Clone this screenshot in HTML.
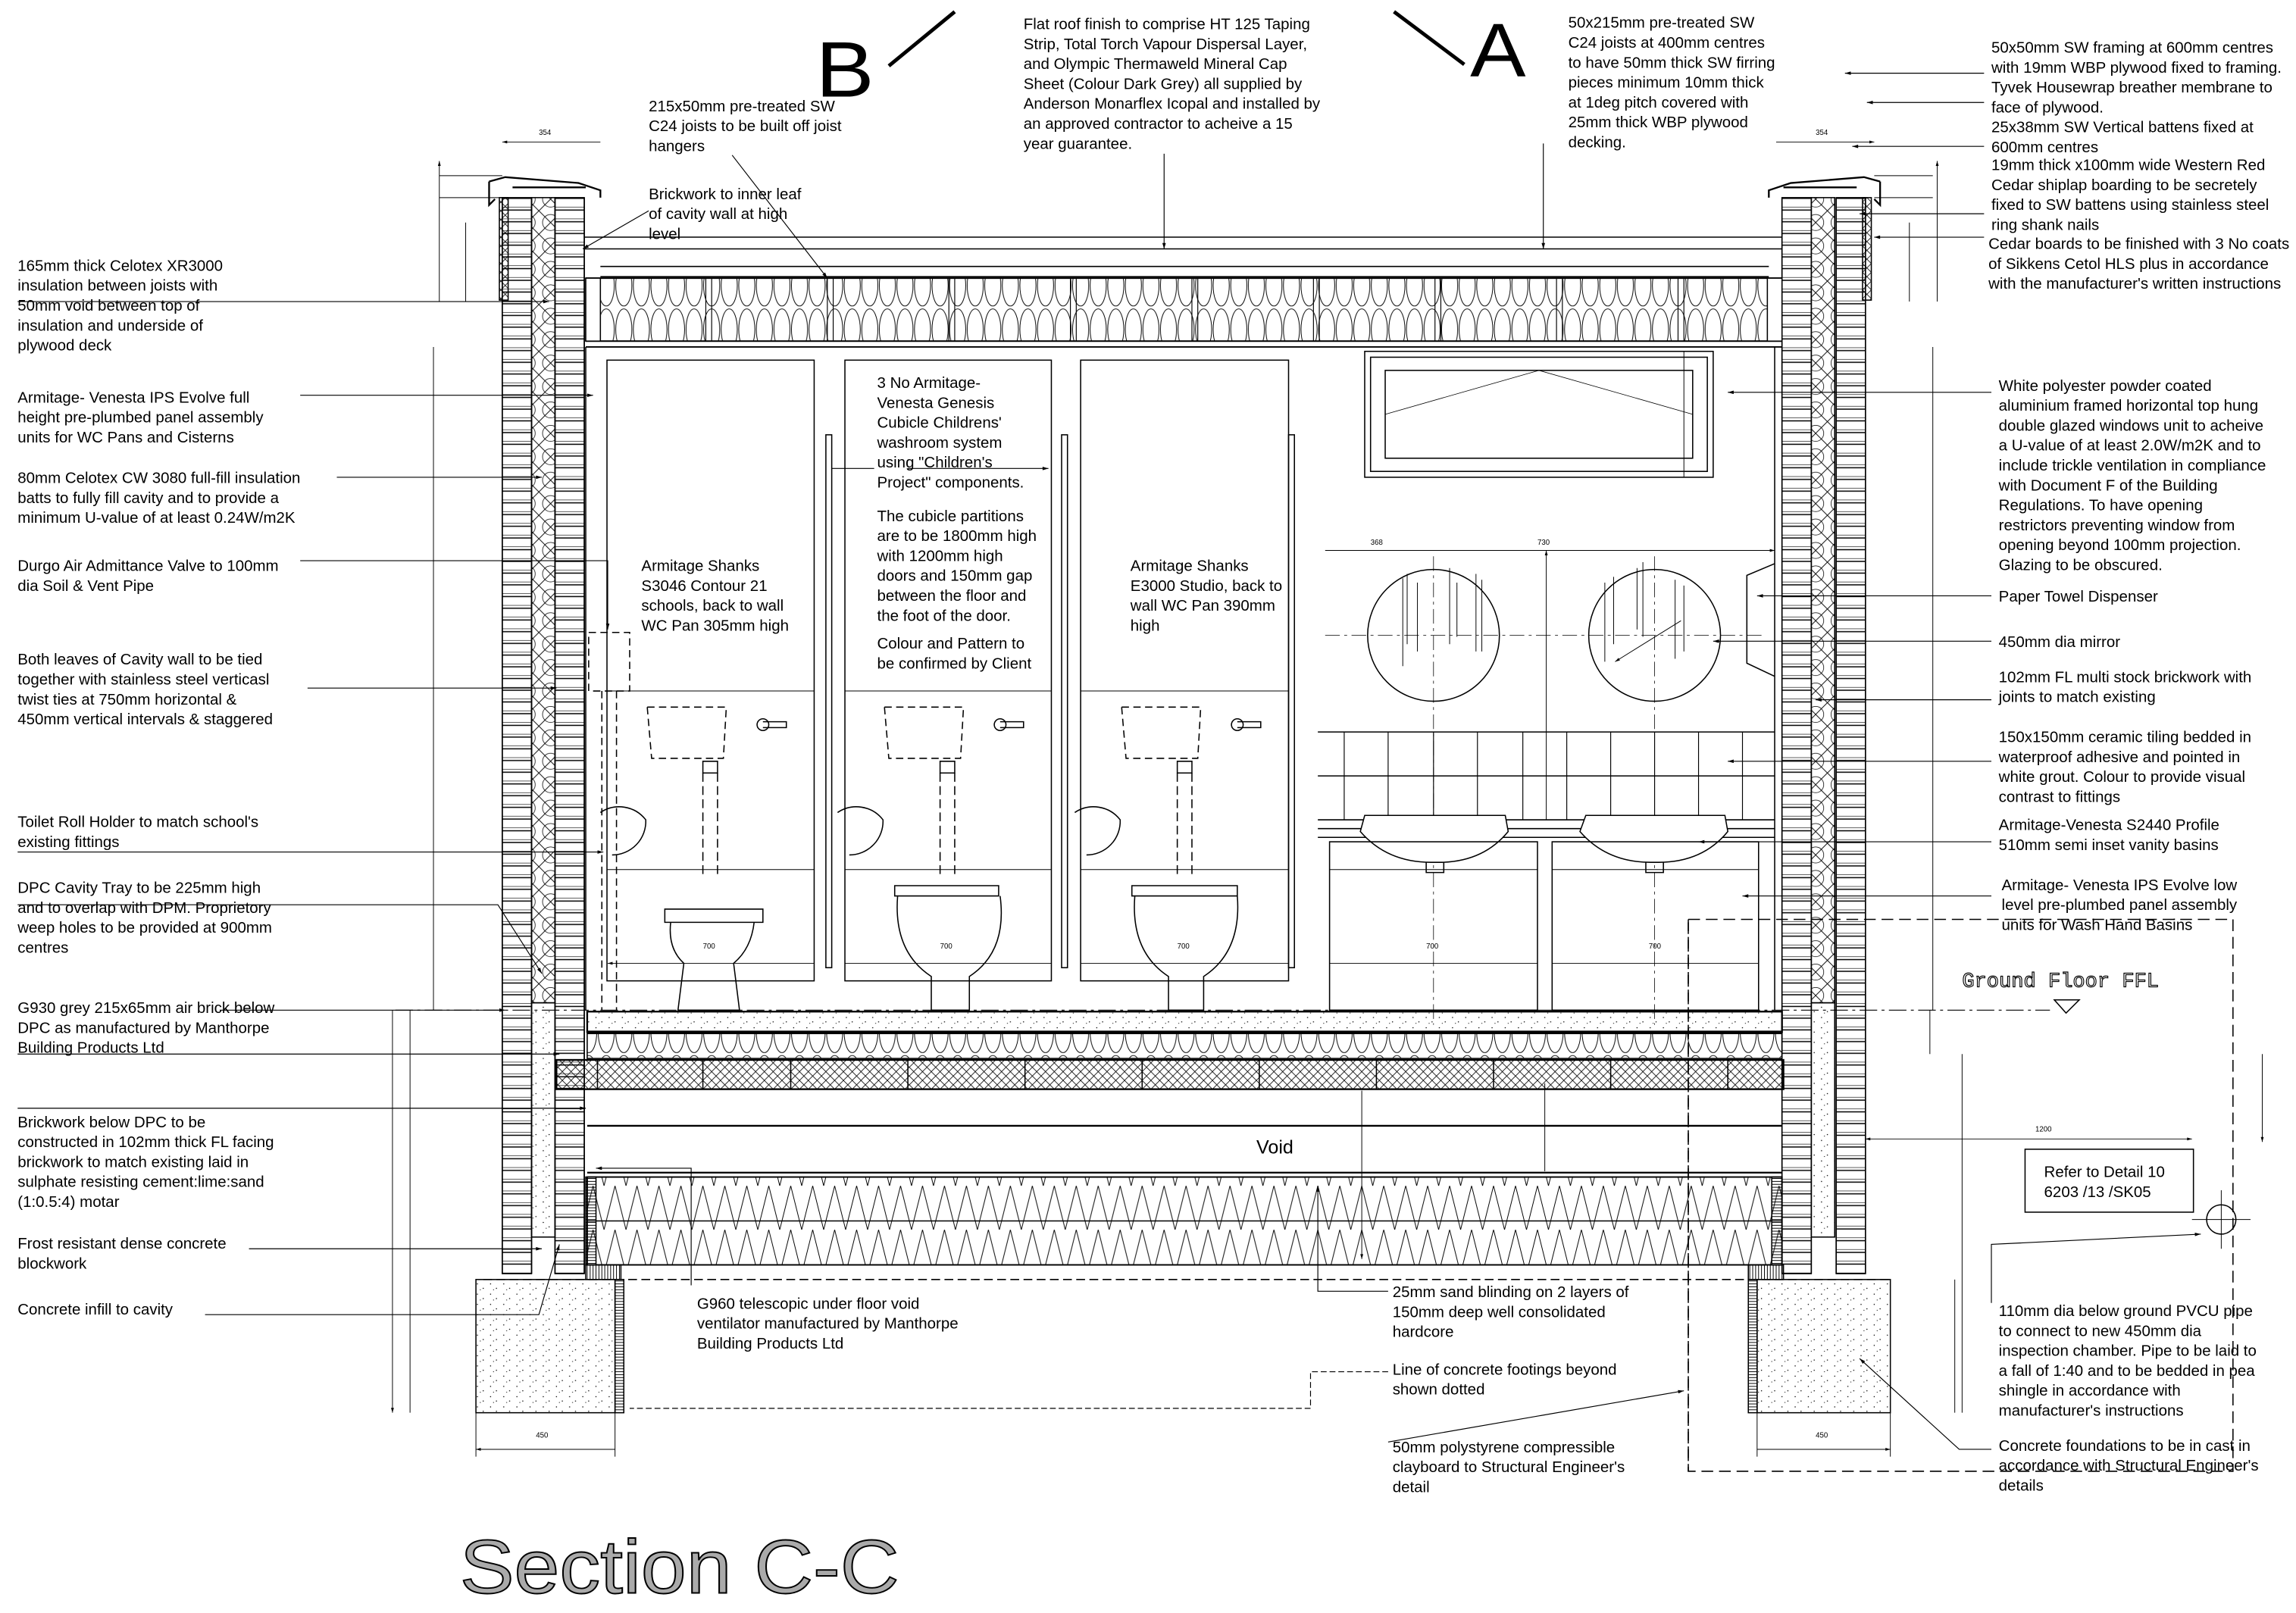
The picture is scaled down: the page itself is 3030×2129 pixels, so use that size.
<!DOCTYPE html>
<html><head><meta charset="utf-8"><style>
html,body{margin:0;padding:0;background:#fff}
svg{display:block}
text{font-family:"Liberation Sans",Arial,sans-serif;fill:#000}
.t{font-size:10.6px}
.d{font-size:5px}
</style></head><body>
<svg width="3030" height="2129" viewBox="0 0 1568 1101.8" xmlns="http://www.w3.org/2000/svg">
<defs>
<pattern id="xh" width="16" height="16" patternUnits="userSpaceOnUse"><path d="M0 0L16 16M16 0L0 16" stroke="#000" stroke-width="0.5"/><circle cx="8" cy="8" r="5.5" fill="none" stroke="#000" stroke-width="0.4"/></pattern>
<pattern id="loop" width="12" height="30" patternUnits="userSpaceOnUse"><ellipse cx="6" cy="15" rx="5.5" ry="14" fill="none" stroke="#000" stroke-width="0.5"/></pattern>
<pattern id="hatch" width="6" height="6" patternUnits="userSpaceOnUse"><path d="M0 0L6 6M6 0L0 6" stroke="#000" stroke-width="0.4"/></pattern>
<pattern id="dots" width="9" height="7" patternUnits="userSpaceOnUse"><circle cx="2" cy="2" r="0.4"/><circle cx="6" cy="5" r="0.4"/><circle cx="4" cy="6" r="0.3"/></pattern>
<pattern id="brick" width="20" height="8" patternUnits="userSpaceOnUse"><path d="M0 7.5H20" stroke="#000" stroke-width="0.8"/><path d="M0 5.5H20" stroke="#000" stroke-width="0.3"/></pattern>
<pattern id="vl" width="2" height="4" patternUnits="userSpaceOnUse"><path d="M1 0V4" stroke="#000" stroke-width="0.5"/></pattern>
<pattern id="hl" width="4" height="2" patternUnits="userSpaceOnUse"><path d="M0 1H4" stroke="#000" stroke-width="0.5"/></pattern>
<pattern id="zig" width="30" height="30" patternUnits="userSpaceOnUse"><path d="M0 0L7.5 30L15 0L22.5 30L30 0" fill="none" stroke="#000" stroke-width="0.5"/></pattern>
<marker id="ar" viewBox="0 0 10 6" refX="10" refY="3" markerWidth="7" markerHeight="4" orient="auto-start-reverse"><path d="M0 0L10 3L0 6z"/></marker>
</defs>
<g stroke="#000" fill="none" stroke-width="0.8">
<!-- Section marks -->
<path d="M607 45L652 8M952 8L1000 44" stroke-width="2.5"/>
<!-- LEFT WALL -->
<rect x="343" y="135" width="20" height="735" fill="url(#brick)"/>
<rect x="363" y="135" width="16" height="550" fill="url(#xh)"/>
<rect x="379" y="135" width="20" height="735" fill="url(#brick)"/>
<rect x="363" y="685" width="16" height="160" fill="url(#dots)"/>
<path d="M343 135V870M363 135V870M379 135V870M399 135V870"/>
<rect x="341" y="135" width="6" height="70" fill="url(#hatch)"/>
<!-- left coping -->
<path d="M334 124L345 121L395 125L410 130V135M334 124V140L338 136M350 128H400" stroke-width="1.2"/>
<!-- RIGHT WALL -->
<rect x="1217" y="135" width="20" height="735" fill="url(#brick)"/>
<rect x="1237" y="135" width="16" height="550" fill="url(#xh)"/>
<rect x="1254" y="135" width="20" height="735" fill="url(#brick)"/>
<rect x="1237" y="685" width="16" height="160" fill="url(#dots)"/>
<path d="M1217 135V870M1237 135V870M1254 135V870M1274 135V870"/>
<rect x="1272" y="135" width="6" height="70" fill="url(#hatch)"/>
<path d="M1284 124L1273 121L1223 125L1208 130V135M1284 124V140L1280 136M1268 128H1218" stroke-width="1.2"/>
<!-- ROOF -->
<path d="M399 162H1217M399 170H1217M410 182H1208M410 189H1208" />
<rect x="400" y="190" width="817" height="43" fill="url(#loop)"/>
<path d="M400 190H1217M400 233H1217M400 237H1217" stroke-width="1"/>
<path d="M482 190V233M486 190V233M565 190V233M569 190V233M648 190V233M652 190V233M731 190V233M735 190V233M814 190V233M818 190V233M897 190V233M901 190V233M980 190V233M984 190V233M1063 190V233M1067 190V233M1146 190V233M1150 190V233" stroke-width="0.6"/>
<rect x="400" y="190" width="10" height="43" fill="#fff"/><rect x="1207" y="190" width="10" height="43" fill="#fff"/>
<!-- CUBICLES -->
<rect x="414.5" y="246" width="141.5" height="424"/>
<rect x="577" y="246" width="141" height="424"/>
<rect x="738" y="246" width="142" height="424"/>
<path d="M414.5 472H556M414.5 594H556M577 472H718M577 594H718M738 472H880M738 594H880" stroke-width="0.5"/>
<rect x="564" y="297" width="4" height="364"/><rect x="725" y="297" width="4" height="364"/><rect x="880" y="297" width="4" height="364"/>
<path d="M400 237V690M1212 237V690"/>
<!-- toilets -->
<g id="wc">
<path d="M442 483L445 518H473M442 483H496L494 518H470" stroke-dasharray="5 3"/>
<path d="M480 520H490V528H480z"/>
<path d="M480 528V600M490 528V600" stroke-dasharray="6 3"/>
<circle cx="521" cy="495" r="4"/><path d="M521 493H537V497H521"/>
<path d="M410 555A23 23 0 0 1 441 560A23 23 0 0 1 418 584"/>
</g>
<use href="#wc" x="162"/>
<use href="#wc" x="324"/>
<!-- pans -->
<path d="M454 621H521V630H454zM458 630Q456 648 467 658L463 690H505L501 658Q513 648 515 630"/>
<path d="M611 605H682V612H611zM613 612Q610 650 636 667V690H662V667Q688 650 683 612"/>
<path d="M773 605H845V612H773zM775 612Q772 650 798 667V690H822V667Q848 650 845 612"/>
<!-- soil pipe -->
<path d="M402 432H430V472H402zM411 472V690M421 472V690" stroke-dasharray="5 3"/>
<!-- WINDOW -->
<rect x="932" y="240" width="238" height="86"/>
<rect x="936" y="244" width="230" height="78"/>
<rect x="946" y="253" width="210" height="60"/>
<path d="M946 283L1051 253L1156 283" stroke-width="0.4"/>
<!-- mirrors -->
<circle cx="979" cy="434" r="45"/><circle cx="1130" cy="434" r="45"/>
<path d="M905 434H1205M979 380V700M1130 380V700" stroke-width="0.4" stroke-dasharray="10 3 2 3"/>
<path d="M958 395V455M961 392V440M968 398V445M990 388V440M995 398V435M1008 392V445M1012 396V445M1096 398V452M1102 394V440M1118 388V430M1122 384V435M1144 396V450M1150 400V445" stroke-width="0.5"/>
<path d="M1148 424L1103 452" marker-end="url(#ar)" stroke-width="0.5"/>
<!-- paper towel -->
<path d="M1212 385L1193 393V453L1212 462"/>
<!-- tiles -->
<path d="M900 500H1212M900 530H1212M900 560H1212M900 566H1212M900 572H1212"/>
<path d="M918 500V560M948 500V560M979 500V560M1009 500V560M1040 500V560M1070 500V560M1100 500V560M1130 500V560M1160 500V560M1190 500V560" stroke-width="0.6"/>
<!-- basins -->
<path d="M932 557H1028L1030 568Q1012 590 980 589Q948 590 929 568z" fill="#fff"/>
<path d="M1083 557H1178L1180 568Q1162 590 1130 589Q1098 590 1079 568z" fill="#fff"/>
<path d="M974 589V596H986V589M1124 589V596H1136V589"/>
<rect x="908" y="575" width="142" height="115"/><rect x="1060" y="575" width="141" height="115"/>
<path d="M908 594H1050M1060 594H1201" stroke-width="0.5"/>
<!-- FLOOR -->
<rect x="401" y="691" width="816" height="14" fill="url(#dots)" stroke-width="1.2"/>
<path d="M401 705H1217" stroke-width="2"/>
<rect x="401" y="706" width="816" height="17" fill="url(#loop)"/>
<rect x="380" y="724" width="838" height="20" fill="url(#hatch)" stroke-width="1.2"/>
<path d="M408 724V744M480 724V744M540 724V744M620 724V744M700 724V744M780 724V744M860 724V744M940 724V744M1020 724V744M1100 724V744M1180 724V744"/>
<path d="M401 769H1217M401 801H1217" stroke-width="1.2"/>
<rect x="401" y="804" width="816" height="60" fill="url(#zig)" stroke-width="1"/>
<path d="M401 834H1217"/>
<rect x="400" y="804" width="7" height="60" fill="url(#hl)"/><rect x="1210" y="804" width="7" height="60" fill="url(#hl)"/>
<!-- footings -->
<rect x="325" y="874" width="95" height="91" fill="url(#dots)"/>
<rect x="1200" y="874" width="91" height="91" fill="url(#dots)"/>
<rect x="400" y="864" width="24" height="10" fill="url(#vl)"/><rect x="1194" y="864" width="24" height="10" fill="url(#vl)"/>
<rect x="420" y="874" width="6" height="91" fill="url(#hl)"/><rect x="1194" y="874" width="6" height="91" fill="url(#hl)"/>
<path d="M330 874H1290" stroke-dasharray="6 3"/>
<path d="M1153 628H1525V1005H1153z" stroke-dasharray="8 4"/>
<path d="M1153 628V1005" stroke-dasharray="8 4"/>
<!-- FFL -->
<path d="M270 690H1400" stroke-dasharray="12 3 2 3" stroke-width="0.6"/>
<path d="M1403 683H1420L1411 692z"/>
<!-- refer box -->
<rect x="1383" y="785" width="115" height="43"/>
<circle cx="1517" cy="833" r="10"/><path d="M1517 827V839M1511 833H1523M1497 833H1537M1517 813V853" stroke-width="0.5"/>
<path d="M1274 778H1497" marker-start="url(#ar)" marker-end="url(#ar)" stroke-width="0.5"/>
<!-- DIMENSIONS -->
<g stroke-width="0.5">
<path d="M343 97H410M1213 97H1280" marker-start="url(#ar)" marker-end="url(#ar)"/>
<path d="M300 120H343M300 135H343M1280 120H1320M1280 135H1320"/>
<path d="M300 110V135M300 135V206M318 152V206M280 690V965M296 237V690M268 690V720M268 720V965" marker-start="url(#ar)" marker-end="url(#ar)"/>
<path d="M1323 110V135M1323 135V206M1304 152V206M1320 237V690M1318 690V720M1340 720V965M1335 874V965M1545 720V780" marker-start="url(#ar)" marker-end="url(#ar)"/>
<path d="M415 658H556M577 658H718M738 658H880M908 658H1050M1060 658H1201M905 376H1212" marker-start="url(#ar)" marker-end="url(#ar)"/>
<path d="M1056 376V560M1150 240V326M1055 740V800M930 745V860" marker-start="url(#ar)" marker-end="url(#ar)"/>
<path d="M325 990H420M1200 990H1291" marker-start="url(#ar)" marker-end="url(#ar)"/>
<path d="M325 965V995M420 965V995M1200 965V995M1291 965V995"/>
<text class="d" x="368" y="92" stroke="none" style="font-size:5px">354</text>
<text class="d" x="1240" y="92" stroke="none" style="font-size:5px">354</text>
<text class="d" x="366" y="982" stroke="none" style="font-size:5px">450</text>
<text class="d" x="1240" y="982" stroke="none" style="font-size:5px">450</text>
<text class="d" x="1390" y="773" stroke="none" style="font-size:5px">1200</text>
<text class="d" x="480" y="648" stroke="none" style="font-size:5px">700</text>
<text class="d" x="642" y="648" stroke="none" style="font-size:5px">700</text>
<text class="d" x="804" y="648" stroke="none" style="font-size:5px">700</text>
<text class="d" x="974" y="648" stroke="none" style="font-size:5px">700</text>
<text class="d" x="1126" y="648" stroke="none" style="font-size:5px">700</text>
<text class="d" x="936" y="372" stroke="none" style="font-size:5px">368</text>
<text class="d" x="1050" y="372" stroke="none" style="font-size:5px">730</text>
</g>
<!-- LEADERS -->
<g stroke-width="0.6">
<path d="M12 206H375" marker-end="url(#ar)"/>
<path d="M205 270H405" marker-end="url(#ar)"/>
<path d="M230 326H370" marker-end="url(#ar)"/>
<path d="M205 383H415V430" marker-end="url(#ar)"/>
<path d="M210 470H380" marker-end="url(#ar)"/>
<path d="M12 582H412" marker-end="url(#ar)"/>
<path d="M12 618H340L370 665" marker-end="url(#ar)"/>
<path d="M150 690H345" marker-end="url(#ar)"/>
<path d="M12 720H382" marker-end="url(#ar)"/>
<path d="M12 757H400" marker-end="url(#ar)"/>
<path d="M170 853H370" marker-end="url(#ar)"/>
<path d="M140 898H368L382 850" marker-end="url(#ar)"/>
<path d="M472 878V798H407" marker-end="url(#ar)"/>
<path d="M948 882H900V810" marker-end="url(#ar)"/>
<path d="M948 937H895V962H430" stroke-dasharray="4 2"/>
<path d="M948 985L1150 950" marker-end="url(#ar)"/>
<path d="M443 144L398 170" marker-end="url(#ar)"/>
<path d="M500 106L565 190" marker-end="url(#ar)"/>
<path d="M795 105V170" marker-end="url(#ar)"/>
<path d="M1054 98V170" marker-end="url(#ar)"/>
<path d="M1355 50H1260" marker-end="url(#ar)"/>
<path d="M1355 70H1275" marker-end="url(#ar)"/>
<path d="M1355 100H1265" marker-end="url(#ar)"/>
<path d="M1355 146H1270" marker-end="url(#ar)"/>
<path d="M1355 162H1280" marker-end="url(#ar)"/>
<path d="M1360 268H1180" marker-end="url(#ar)"/>
<path d="M1360 407H1200" marker-end="url(#ar)"/>
<path d="M1360 438H1170" marker-end="url(#ar)"/>
<path d="M1360 478H1240" marker-end="url(#ar)"/>
<path d="M1360 520H1180" marker-end="url(#ar)"/>
<path d="M1360 575H1160" marker-end="url(#ar)"/>
<path d="M1360 612H1190" marker-end="url(#ar)"/>
<path d="M1360 990H1338L1270 928" marker-end="url(#ar)"/>
<path d="M1360 890V850L1503 843" marker-end="url(#ar)"/>
<path d="M597 320H568M620 320H716" marker-end="url(#ar)"/>
<path d="M288 440V440"/>
</g>
</g>
<!-- LABELS -->
<text x="557" y="66" style="font-size:54px" textLength="40" lengthAdjust="spacingAndGlyphs">B</text>
<text x="1004" y="52" style="font-size:52px" textLength="38" lengthAdjust="spacingAndGlyphs">A</text>
<text x="314" y="1088" style="font-size:52px;fill:#aaa;stroke:#000;stroke-width:1" textLength="300" lengthAdjust="spacingAndGlyphs">Section C-C</text>
<text x="1340" y="674" style="font-family:'Liberation Mono',monospace;font-size:14px;fill:#fff;stroke:#000;stroke-width:0.6">Ground Floor FFL</text>
<text x="858" y="788" style="font-size:13px">Void</text>
<g class="t">
<text x="12" y="185"><tspan x="12">165mm thick Celotex XR3000</tspan><tspan x="12" dy="13.6">insulation between joists with</tspan><tspan x="12" dy="13.6">50mm void between top of</tspan><tspan x="12" dy="13.6">insulation and underside of</tspan><tspan x="12" dy="13.6">plywood deck</tspan></text>
<text x="12" y="275"><tspan x="12">Armitage- Venesta IPS Evolve full</tspan><tspan x="12" dy="13.6">height pre-plumbed panel assembly</tspan><tspan x="12" dy="13.6">units for WC Pans and Cisterns</tspan></text>
<text x="12" y="330"><tspan x="12">80mm Celotex CW 3080 full-fill insulation</tspan><tspan x="12" dy="13.6">batts to fully fill cavity and to provide  a</tspan><tspan x="12" dy="13.6">minimum U-value of at least 0.24W/m2K</tspan></text>
<text x="12" y="390"><tspan x="12">Durgo Air Admittance Valve to 100mm</tspan><tspan x="12" dy="13.6">dia Soil &amp; Vent Pipe</tspan></text>
<text x="12" y="454"><tspan x="12">Both leaves of Cavity wall to be tied</tspan><tspan x="12" dy="13.6">together with stainless steel verticasl</tspan><tspan x="12" dy="13.6">twist ties at 750mm horizontal &amp;</tspan><tspan x="12" dy="13.6">450mm vertical intervals &amp; staggered</tspan></text>
<text x="12" y="565"><tspan x="12">Toilet Roll Holder to match school's</tspan><tspan x="12" dy="13.6">existing fittings</tspan></text>
<text x="12" y="610"><tspan x="12">DPC Cavity Tray to be 225mm high</tspan><tspan x="12" dy="13.6">and to overlap with DPM. Proprietory</tspan><tspan x="12" dy="13.6">weep holes to be provided at 900mm</tspan><tspan x="12" dy="13.6">centres</tspan></text>
<text x="12" y="692"><tspan x="12">G930 grey 215x65mm air brick below</tspan><tspan x="12" dy="13.6">DPC as manufactured by Manthorpe</tspan><tspan x="12" dy="13.6">Building Products Ltd</tspan></text>
<text x="12" y="770"><tspan x="12">Brickwork below DPC to be</tspan><tspan x="12" dy="13.6">constructed in 102mm thick FL facing</tspan><tspan x="12" dy="13.6">brickwork to match existing laid in</tspan><tspan x="12" dy="13.6">sulphate resisting cement:lime:sand</tspan><tspan x="12" dy="13.6">(1:0.5:4) motar</tspan></text>
<text x="12" y="853"><tspan x="12">Frost resistant dense concrete</tspan><tspan x="12" dy="13.6">blockwork</tspan></text>
<text x="12" y="898">Concrete infill to cavity</text>
<text x="443" y="76"><tspan x="443">215x50mm pre-treated SW</tspan><tspan x="443" dy="13.6">C24 joists to be built off joist</tspan><tspan x="443" dy="13.6">hangers</tspan></text>
<text x="443" y="136"><tspan x="443">Brickwork to inner leaf</tspan><tspan x="443" dy="13.6">of cavity wall at high</tspan><tspan x="443" dy="13.6">level</tspan></text>
<text x="699" y="20"><tspan x="699">Flat roof finish to comprise HT 125 Taping</tspan><tspan x="699" dy="13.6">Strip, Total Torch Vapour Dispersal Layer,</tspan><tspan x="699" dy="13.6">and Olympic Thermaweld Mineral Cap</tspan><tspan x="699" dy="13.6">Sheet (Colour Dark Grey) all supplied by</tspan><tspan x="699" dy="13.6">Anderson Monarflex Icopal and installed by</tspan><tspan x="699" dy="13.6">an approved contractor to acheive a 15</tspan><tspan x="699" dy="13.6">year guarantee.</tspan></text>
<text x="1071" y="19"><tspan x="1071">50x215mm pre-treated SW</tspan><tspan x="1071" dy="13.6">C24   joists at 400mm centres</tspan><tspan x="1071" dy="13.6">to have 50mm thick SW firring</tspan><tspan x="1071" dy="13.6">pieces minimum 10mm thick</tspan><tspan x="1071" dy="13.6">at 1deg pitch covered with</tspan><tspan x="1071" dy="13.6">25mm thick WBP plywood</tspan><tspan x="1071" dy="13.6">decking.</tspan></text>
<text x="1360" y="36"><tspan x="1360">50x50mm SW framing at 600mm centres</tspan><tspan x="1360" dy="13.6">with 19mm WBP plywood fixed to framing.</tspan><tspan x="1360" dy="13.6">Tyvek Housewrap breather membrane to</tspan><tspan x="1360" dy="13.6">face of plywood.</tspan><tspan x="1360" dy="13.6">25x38mm SW Vertical battens fixed at</tspan><tspan x="1360" dy="13.6">600mm centres</tspan><tspan x="1360" dy="12.2">19mm thick x100mm wide Western Red</tspan><tspan x="1360" dy="13.6">Cedar shiplap boarding to be secretely</tspan><tspan x="1360" dy="13.6">fixed to  SW battens using stainless steel</tspan><tspan x="1360" dy="13.6">ring shank nails</tspan></text>
<text x="1358" y="170"><tspan x="1358">Cedar boards to be finished with 3 No coats</tspan><tspan x="1358" dy="13.6">of Sikkens Cetol HLS plus in accordance</tspan><tspan x="1358" dy="13.6">with the manufacturer's written instructions</tspan></text>
<text x="1365" y="267"><tspan x="1365">White polyester powder coated</tspan><tspan x="1365" dy="13.6">aluminium framed horizontal top hung</tspan><tspan x="1365" dy="13.6">double glazed windows unit to acheive</tspan><tspan x="1365" dy="13.6">a U-value of at least 2.0W/m2K and to</tspan><tspan x="1365" dy="13.6">include trickle ventilation in compliance</tspan><tspan x="1365" dy="13.6">with Document F of the Building</tspan><tspan x="1365" dy="13.6">Regulations. To have opening</tspan><tspan x="1365" dy="13.6">restrictors preventing window from</tspan><tspan x="1365" dy="13.6">opening beyond 100mm projection.</tspan><tspan x="1365" dy="13.6">Glazing to be obscured.</tspan></text>
<text x="1365" y="411">Paper Towel Dispenser</text>
<text x="1365" y="442">450mm dia mirror</text>
<text x="1365" y="466"><tspan x="1365">102mm FL multi stock brickwork with</tspan><tspan x="1365" dy="13.6">joints to match existing</tspan></text>
<text x="1365" y="507"><tspan x="1365">150x150mm ceramic tiling bedded in</tspan><tspan x="1365" dy="13.6">waterproof adhesive and pointed in</tspan><tspan x="1365" dy="13.6">white grout. Colour to provide visual</tspan><tspan x="1365" dy="13.6">contrast to fittings</tspan></text>
<text x="1365" y="567"><tspan x="1365">Armitage-Venesta S2440 Profile</tspan><tspan x="1365" dy="13.6">510mm semi inset vanity basins</tspan></text>
<text x="1367" y="608"><tspan x="1367">Armitage- Venesta IPS Evolve low</tspan><tspan x="1367" dy="13.6">level pre-plumbed panel assembly</tspan><tspan x="1367" dy="13.6">units for Wash Hand Basins</tspan></text>
<text x="1396" y="804"><tspan x="1396">Refer to Detail 10</tspan><tspan x="1396" dy="13.6">6203 /13 /SK05</tspan></text>
<text x="1365" y="899"><tspan x="1365">110mm dia below ground PVCU pipe</tspan><tspan x="1365" dy="13.6">to connect to new 450mm dia</tspan><tspan x="1365" dy="13.6">inspection chamber. Pipe to be laid to</tspan><tspan x="1365" dy="13.6">a fall of 1:40 and to be bedded in pea</tspan><tspan x="1365" dy="13.6">shingle in accordance with</tspan><tspan x="1365" dy="13.6">manufacturer's instructions</tspan></text>
<text x="1365" y="991"><tspan x="1365">Concrete foundations to be in cast in</tspan><tspan x="1365" dy="13.6">accordance with Structural Engineer's</tspan><tspan x="1365" dy="13.6">details</tspan></text>
<text x="599" y="265"><tspan x="599">3 No Armitage-</tspan><tspan x="599" dy="13.6">Venesta Genesis</tspan><tspan x="599" dy="13.6">Cubicle Childrens'</tspan><tspan x="599" dy="13.6">washroom system</tspan><tspan x="599" dy="13.6">using "Children's</tspan><tspan x="599" dy="13.6">Project" components.</tspan></text>
<text x="599" y="356"><tspan x="599">The cubicle partitions</tspan><tspan x="599" dy="13.6">are to be 1800mm high</tspan><tspan x="599" dy="13.6">with 1200mm high</tspan><tspan x="599" dy="13.6">doors and 150mm gap</tspan><tspan x="599" dy="13.6">between the floor and</tspan><tspan x="599" dy="13.6">the foot of the door.</tspan></text>
<text x="599" y="443"><tspan x="599">Colour and Pattern to</tspan><tspan x="599" dy="13.6">be confirmed by Client</tspan></text>
<text x="438" y="390"><tspan x="438">Armitage Shanks</tspan><tspan x="438" dy="13.6">S3046 Contour 21</tspan><tspan x="438" dy="13.6">schools, back to wall</tspan><tspan x="438" dy="13.6">WC Pan 305mm high</tspan></text>
<text x="772" y="390"><tspan x="772">Armitage Shanks</tspan><tspan x="772" dy="13.6">E3000 Studio, back to</tspan><tspan x="772" dy="13.6">wall WC Pan 390mm</tspan><tspan x="772" dy="13.6">high</tspan></text>
<text x="476" y="894"><tspan x="476">G960 telescopic under floor void</tspan><tspan x="476" dy="13.6">ventilator manufactured by Manthorpe</tspan><tspan x="476" dy="13.6">Building Products Ltd</tspan></text>
<text x="951" y="886"><tspan x="951">25mm sand blinding on 2 layers of</tspan><tspan x="951" dy="13.6">150mm deep well consolidated</tspan><tspan x="951" dy="13.6">hardcore</tspan></text>
<text x="951" y="939"><tspan x="951">Line of concrete footings beyond</tspan><tspan x="951" dy="13.6">shown dotted</tspan></text>
<text x="951" y="992"><tspan x="951">50mm polystyrene compressible</tspan><tspan x="951" dy="13.6">clayboard to Structural Engineer's</tspan><tspan x="951" dy="13.6">detail</tspan></text>
</g>
</svg>
</body></html>
